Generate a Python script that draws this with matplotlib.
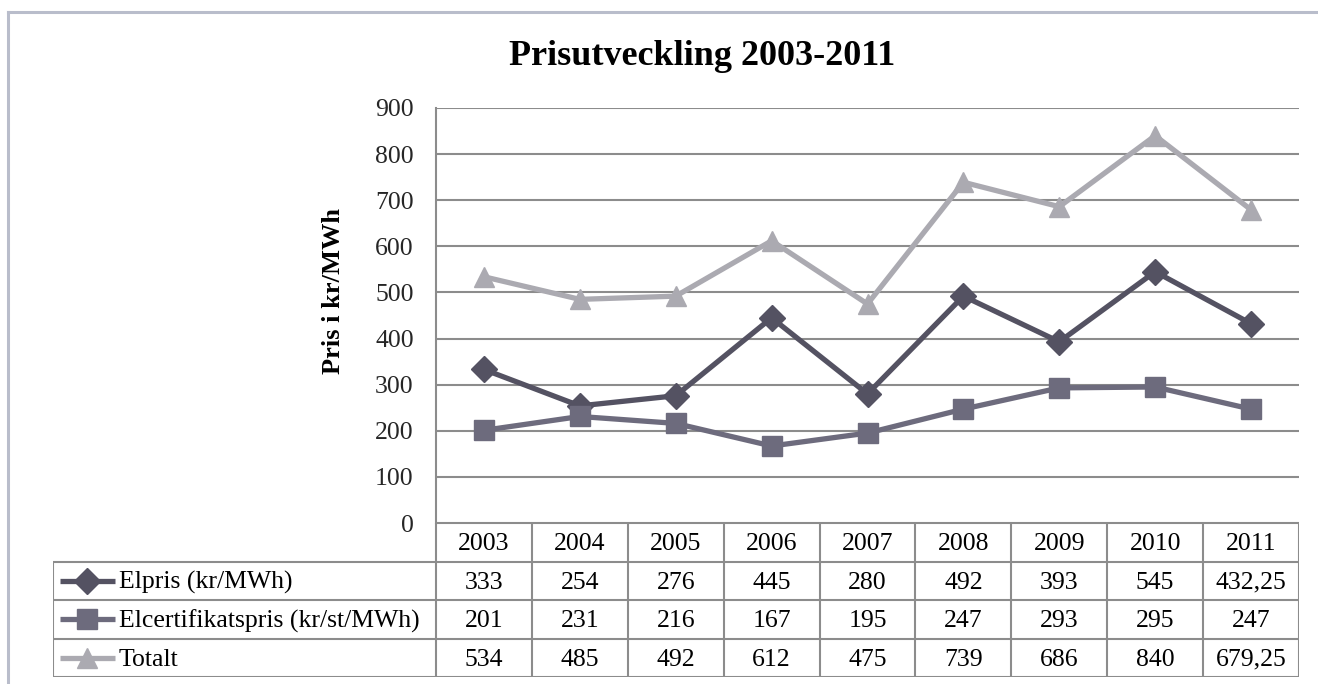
import matplotlib.pyplot as plt
from matplotlib.lines import Line2D

plt.rcParams["font.family"] = ["Liberation Serif", "DejaVu Serif"]

years = ["2003", "2004", "2005", "2006", "2007", "2008", "2009", "2010", "2011"]
elpris = [333, 254, 276, 445, 280, 492, 393, 545, 432.25]
elcert = [201, 231, 216, 167, 195, 247, 293, 295, 247]
totalt = [534, 485, 492, 612, 475, 739, 686, 840, 679.25]
series_names = ["Elpris (kr/MWh)", "Elcertifikatspris (kr/st/MWh)", "Totalt"]

colors = ["#545262", "#6d6b7d", "#abaab1"]
markers = ["D", "s", "^"]
msizes = [13, 15, 14]
grid_col = "#8c8c8c"
fs = 18.5

W, H = 1318, 684
fig = plt.figure(figsize=(W / 100, H / 100), dpi=100)


def fx(px):
    return px / W


def fy(py):
    return 1 - py / H


# outer chart border
fig.add_artist(Line2D([fx(8), fx(8)], [fy(12), fy(700)], color="#b9bdcb", lw=2.2))
fig.add_artist(Line2D([fx(8), fx(1330)], [fy(12), fy(12)], color="#b9bdcb", lw=2.2))

L, R, T, B = 436, 1299, 108, 523
ax = fig.add_axes([fx(L), fy(B), fx(R - L), (B - T) / H])
x = list(range(len(years)))
for vals, c, m, ms in zip([elpris, elcert, totalt], colors, markers, msizes):
    ax.plot(x, vals, color=c, lw=3.8, marker=m, ms=ms, mec=c, mfc=c, zorder=3)
ax.set_xlim(-0.5, len(years) - 0.5)
ax.set_ylim(0, 900)
ax.set_yticks(range(0, 901, 100))
ax.tick_params(axis="y", length=0, pad=16, labelsize=fs, labelcolor="#262626")
ax.set_xticks([])
ax.yaxis.grid(True, color=grid_col, lw=1.5)
ax.set_axisbelow(True)
for s in ["top", "right", "bottom"]:
    ax.spines[s].set_visible(False)
ax.spines["left"].set_color(grid_col)
ax.spines["left"].set_linewidth(1.5)

fig.text(fx(702), fy(65), "Prisutveckling 2003-2011", ha="center", va="baseline",
         fontsize=26, fontweight="bold")
fig.text(fx(334), fy(291), "Pris i kr/MWh", ha="center", va="center", rotation=90,
         fontsize=19, fontweight="bold")

# data table below the plot
TL, TB = 53, 677
unit = (R - L) / len(years)
lab_w = (L - TL) / unit
tax = fig.add_axes([fx(TL), fy(TB), fx(R - TL), (TB - B) / H])
tax.set_xlim(-0.5 - lab_w, len(years) - 0.5)
tax.set_ylim(4, 0)
tax.axis("off")
lk = dict(color=grid_col, lw=1.5, solid_capstyle="butt")
tax.plot([-0.5, len(years) - 0.5], [0, 0], **lk)
for r in range(1, 5):
    tax.plot([-0.5 - lab_w, len(years) - 0.5], [r, r], **lk)
for k in range(len(years) + 1):
    tax.plot([k - 0.5, k - 0.5], [0, 4], **lk)
tax.plot([-0.5 - lab_w] * 2, [1, 4], **lk)

for i, yr in enumerate(years):
    tax.text(i, 0.55, yr, ha="center", va="center", fontsize=fs)


def fmt(v):
    return f"{v:g}".replace(".", ",")


for r, (name, vals, c, m, ms) in enumerate(zip(series_names, [elpris, elcert, totalt],
                                                colors, markers, msizes), start=1):
    x0 = -0.5 - lab_w
    tax.plot([x0 + 7 / unit, x0 + 62 / unit], [r + 0.5, r + 0.5], color=c, lw=3.8,
             solid_capstyle="butt")
    tax.plot([x0 + 34 / unit], [r + 0.5], marker=m, ms=ms, color=c, mec=c)
    tax.text(x0 + 66 / unit, r + 0.55, name, ha="left", va="center", fontsize=fs)
    for i, v in enumerate(vals):
        tax.text(i, r + 0.55, fmt(v), ha="center", va="center", fontsize=fs)

fig.savefig("out.png", dpi=100)
